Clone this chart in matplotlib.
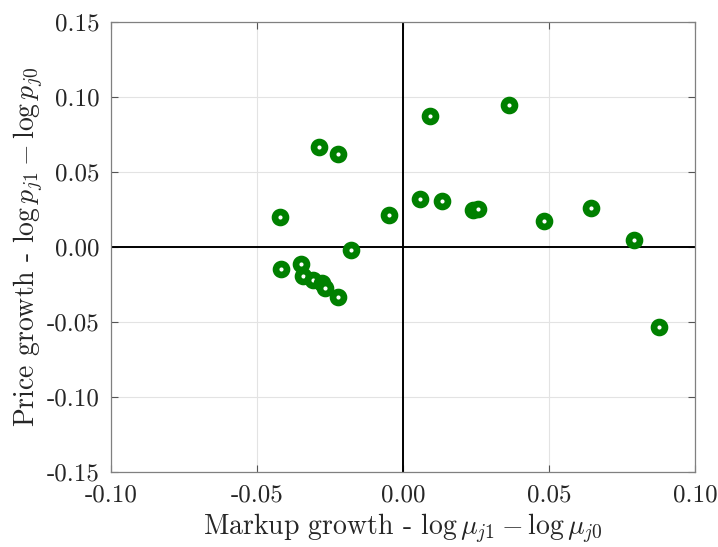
import numpy as np
import matplotlib
matplotlib.use("Agg")
import matplotlib.pyplot as plt

plt.rcParams['font.family'] = ['cmr10']
plt.rcParams['mathtext.fontset'] = 'cm'
plt.rcParams['axes.unicode_minus'] = False

# markup growth (x) and price growth (y)
markup_growth = [-0.0420, -0.0288, -0.0224, -0.0047, 0.0094, 0.0058, 0.0134,
                 0.0364, 0.0241, 0.0258, 0.0482, 0.0643, 0.0792, 0.0877,
                 -0.0179, -0.0418, -0.0350, -0.0342, -0.0308, -0.0277,
                 -0.0267, -0.0223]
price_growth = [0.0201, 0.0669, 0.0618, 0.0214, 0.0876, 0.0319, 0.0305,
                0.0947, 0.0244, 0.0252, 0.0171, 0.0259, 0.0046, -0.0531,
                -0.0018, -0.0146, -0.0115, -0.0193, -0.0219, -0.0239,
                -0.0272, -0.0332]

xticks = [-0.10, -0.05, 0.00, 0.05, 0.10]
yticks = [-0.15, -0.10, -0.05, 0.00, 0.05, 0.10, 0.15]

fig = plt.figure(figsize=(7.18, 5.47), dpi=100)
ax = fig.add_axes([0.1546, 0.1371, 0.8134, 0.8227])

ax.grid(True, color='#e3e3e3', linewidth=0.8)
ax.set_axisbelow(True)
ax.axhline(0, color='black', linewidth=1.4, zorder=1)
ax.axvline(0, color='black', linewidth=1.4, zorder=1)

ax.plot(markup_growth, price_growth, linestyle='none', marker='o',
        markersize=7.9, markerfacecolor='white', markeredgecolor='#008000',
        markeredgewidth=4.8, zorder=3)

ax.set_xlim(-0.1, 0.1)
ax.set_ylim(-0.15, 0.15)
ax.set_xticks(xticks)
ax.set_yticks(yticks)
ax.set_xticklabels(['%.2f' % v for v in xticks])
ax.set_yticklabels(['%.2f' % v for v in yticks])
ax.tick_params(direction='in', top=True, right=True, length=5,
               color='#555555', labelsize=18, labelcolor='#262626')
ax.tick_params(axis='x', pad=9)
ax.tick_params(axis='y', pad=8)
for s in ax.spines.values():
    s.set_color('#808080')
    s.set_linewidth(0.9)

ax.set_xlabel(r'Markup growth - $\log\mu_{j1} - \log\mu_{j0}$',
              fontsize=20, color='#262626', labelpad=4)
ax.set_ylabel(r'Price growth - $\log p_{j1} - \log p_{j0}$',
              fontsize=20, color='#262626', labelpad=1)

fig.savefig('out.png', dpi=100)
